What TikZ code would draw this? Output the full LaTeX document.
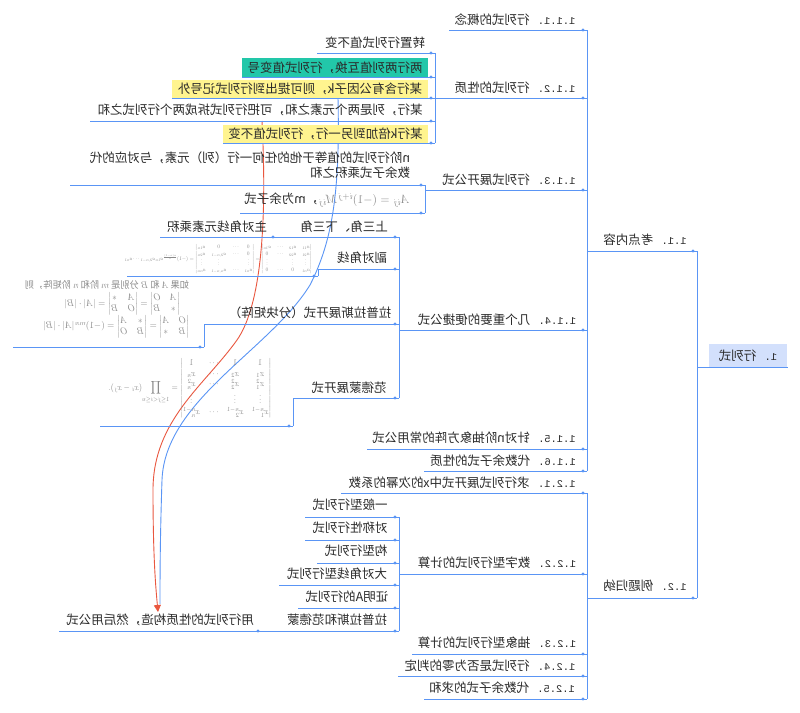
\documentclass[tikz,border=0pt]{standalone}
\usepackage{amsmath}
\usepackage{fontspec}
\newfontfamily\cjk{Noto Sans CJK SC}
\newfontfamily\monof{Liberation Mono}
\usetikzlibrary{calc,arrows.meta}
\definecolor{lineblue}{HTML}{5A95F5}
\definecolor{txtc}{HTML}{2A2A2A}
\definecolor{tealc}{HTML}{22C7A9}
\definecolor{yelc}{HTML}{FFF48F}
\definecolor{rootc}{HTML}{D3E0FC}
\definecolor{redc}{HTML}{E9573F}
\definecolor{fgray}{HTML}{8A8A8A}
\newcommand\numpre[1]{{\monof\fontsize{10.4}{12}\selectfont #1 }}
\newcommand\brline[4]{%
  \coordinate (#1-l) at (#3,#2);
  \coordinate (#1-r) at (#4,#2);
  \draw[lnk] (#1-l) -- (#1-r);
  \fill[lineblue] ($(#1-r)+(-4,0)$) circle (1.7);
}
\tikzset{
  lbl/.style={font=\cjk\fontsize{12.5}{15.5}\selectfont, text=txtc, inner sep=0pt, xscale=-1},
  fml/.style={text=fgray, inner sep=0pt, font=\fontsize{10}{12}\selectfont},
  lnk/.style={draw=lineblue, line width=0.9pt},
  hlbox/.style={minimum height=18.5}
}
\begin{document}
\begin{tikzpicture}[x=1pt,y=-1pt]
\fill[white] (0,0) rectangle (800,712);
\useasboundingbox (0,0) rectangle (800,712);

% ---- cross links (drawn first, boxes lie over them)
\coordinate (rs) at (262,121);
\coordinate (re) at (158,612);
\coordinate (bs) at (338,98);
\coordinate (be) at (160,604);
\draw[lnk] (bs) .. controls (340,190) and (333,240) .. (310,285)
   .. controls (270,350) and (165,400) .. (162,480)
   .. controls (160,540) and (160,580) .. (be);
\draw[draw=redc, line width=0.9pt, -{Triangle[length=7pt,width=7pt]}] (rs)
   .. controls (268,240) and (258,310) .. (237,340)
   .. controls (205,385) and (153,420) .. (153,490)
   .. controls (153,560) and (156,590) .. (re);

% ---- root
\node[lbl, fill=rootc, minimum width=78, minimum height=23] (root) at (748,355.5) {\numpre{1.}行列式};
\coordinate (rootL) at (697,367);
\coordinate (rootR) at (788,367);
\draw[lnk] (rootL) -- (rootR);

% ---- level 1
\brline{b11}{251}{587}{697}
\node[lbl] (n11) at (645,240) {\numpre{1.1.}考点内容};
\brline{b12}{598}{587}{697}
\node[lbl] (n12) at (645,586) {\numpre{1.2.}例题归纳};
\draw[lnk] (b11-r) -- (b12-r);

% ---- level 2 under 1.1
\brline{b111}{30}{449}{587}
\node[lbl] (n111) at (515,20) {\numpre{1.1.1.}行列式的概念};
\brline{b112}{98}{435}{587}
\node[lbl] (n112) at (515,88) {\numpre{1.1.2.}行列式的性质};
\brline{b113}{190}{425}{587}
\node[lbl] (n113) at (509,180) {\numpre{1.1.3.}行列式展开公式};
\brline{b114}{330}{399}{587}
\node[lbl] (n114) at (497,320) {\numpre{1.1.4.}几个重要的便捷公式};
\brline{b115}{449}{367}{587}
\node[lbl] (n115) at (474,438) {\numpre{1.1.5.}针对n阶抽象方阵的常用公式};
\brline{b116}{471}{424}{587}
\node[lbl] (n116) at (503,461) {\numpre{1.1.6.}代数余子式的性质};
\draw[lnk] (b111-r) -- (b116-r);

% ---- level 2 under 1.2
\brline{b121}{493}{341}{587}
\node[lbl] (n121) at (462,483) {\numpre{1.2.1.}求行列式展开式中x的次幂的系数};
\brline{b122}{574}{399}{587}
\node[lbl] (n122) at (497,563) {\numpre{1.2.2.}数字型行列式的计算};
\brline{b123}{654}{412}{587}
\node[lbl] (n123) at (497,643) {\numpre{1.2.3.}抽象型行列式的计算};
\brline{b124}{676}{398}{587}
\node[lbl] (n124) at (490,666) {\numpre{1.2.4.}行列式是否为零的判定};
\brline{b125}{699}{424}{587}
\node[lbl] (n125) at (502,688) {\numpre{1.2.5.}代数余子式的求和};
\draw[lnk] (b121-r) -- (b125-r);

% ---- 1.1.2 children
\brline{p1}{53}{317}{435}
\node[lbl] (np1) at (375,43) {转置行列式值不变};
\brline{p2}{77}{242}{435}
\node[lbl, hlbox, fill=tealc, minimum width=186] (np2) at (335,67.5) {两行两列值互换，行列式值变号};
\brline{p3}{98}{172}{435}
\node[lbl, hlbox, fill=yelc, minimum width=256] (np3) at (300,89) {某行含有公因子k，则可提出到行列式记号外};
\brline{p4}{121}{90}{435}
\node[lbl] (np4) at (260,110) {某行，列是两个元素之和，可把行列式拆成两个行列式之和};
\brline{p5}{143}{223}{435}
\node[lbl, hlbox, fill=yelc, minimum width=205] (np5) at (325.5,134) {某行k倍加到另一行，行列式值不变};
\draw[lnk] (p1-r) -- (p5-r);

% ---- 1.1.3 children
\brline{q1}{185}{70}{425}
\node[lbl, align=left] (nq1) at (250,165) {n阶行列式的值等于他的任何一行（列）元素，与对应的代\\数余子式乘积之和};
\brline{q2}{213}{240}{425}
\node[lbl] (nq2) at (327,200) {{\color{fgray}$A_{ij}=(-1)^{i+j}M_{ij}$}，m为余子式};
\draw[lnk] (q1-r) -- (q2-r);

% ---- 1.1.4 children
\brline{r1}{237}{277}{399}
\node[lbl] (nr1) at (344,227) {上三角、下三角};
\brline{r1a}{237}{160}{277}
\node[lbl] (nr1a) at (217,227) {主对角线元素乘积};
\brline{r2}{269}{318}{399}
\node[lbl] (nr2) at (362,258) {副对角线};
\brline{r2a}{276}{127}{318}
\draw[lnk] (r2a-r) -- (r2-l);
\node[fml, xscale=-0.54, yscale=0.53] (nr2a) at (218,259) {$\begin{vmatrix}a_{11}&a_{12}&\cdots&a_{1n}\\a_{21}&a_{22}&\cdots&0\\\vdots&\vdots&&\vdots\\a_{n1}&0&\cdots&0\end{vmatrix}=\begin{vmatrix}0&\cdots&0&a_{1n}\\0&\cdots&a_{2,n-1}&a_{2n}\\\vdots&&\vdots&\vdots\\a_{n1}&\cdots&a_{n,n-1}&a_{nn}\end{vmatrix}=(-1)^{\frac{n(n-1)}{2}}a_{1n}a_{2,n-1}\cdots a_{n1}$};
\brline{r3}{324}{204}{399}
\node[lbl] (nr3) at (310,313) {拉普拉斯展开式（分块矩阵）};
\brline{r3a}{347}{13}{204}
\draw[lnk] (r3a-r) -- (r3-l);
\node[fml, xscale=-0.92, yscale=0.95] (nr3a) at (107,309) {\begin{tabular}{@{}l@{}}\cjk 如果 $A$ 和 $B$ 分别是 $m$ 阶和 $n$ 阶矩阵，则\\[1pt]
 \quad$\begin{vmatrix}A&O\\ *&B\end{vmatrix}=\begin{vmatrix}A&*\\ O&B\end{vmatrix}=|A|\cdot|B|$\\[3pt]
 $\begin{vmatrix}O&A\\ B&*\end{vmatrix}=\begin{vmatrix}*&A\\ B&O\end{vmatrix}=(-1)^{mn}|A|\cdot|B|$\end{tabular}};
\brline{r4}{398}{293}{399}
\node[lbl] (nr4) at (349,388) {范德蒙展开式};
\brline{r4a}{426}{100}{293}
\draw[lnk] (r4a-r) -- (r4-l);
\node[fml, xscale=-0.8, yscale=0.9] (nr4a) at (190,388) {$\begin{vmatrix}1&1&\cdots&1\\x_1&x_2&\cdots&x_n\\x_1^2&x_2^2&\cdots&x_n^2\\\vdots&\vdots&&\vdots\\x_1^{n-1}&x_2^{n-1}&\cdots&x_n^{n-1}\end{vmatrix}=\displaystyle\prod_{1\le j<i\le n}(x_i-x_j).$};
\draw[lnk] (r1-r) -- (r4-r);

% ---- 1.2.2 children
\brline{s1}{517}{305}{399}
\node[lbl] (ns1) at (350,505) {一般型行列式};
\brline{s2}{540}{305}{399}
\node[lbl] (ns2) at (350,528) {对称性行列式};
\brline{s3}{563}{317}{399}
\node[lbl] (ns3) at (356,551) {构型行列式};
\brline{s4}{585}{279}{399}
\node[lbl] (ns4) at (337,574) {大对角线型行列式};
\brline{s5}{608}{298}{399}
\node[lbl] (ns5) at (347,597) {证明A的行列式};
\brline{s6}{631}{262}{399}
\node[lbl] (ns6) at (337,620) {拉普拉斯和范德蒙};
\brline{s6a}{631}{59}{262}
\node[lbl] (ns6a) at (160,620) {用行列式的性质构造，然后用公式};
\draw[lnk] (s1-r) -- (s6-r);
\end{tikzpicture}
\end{document}
